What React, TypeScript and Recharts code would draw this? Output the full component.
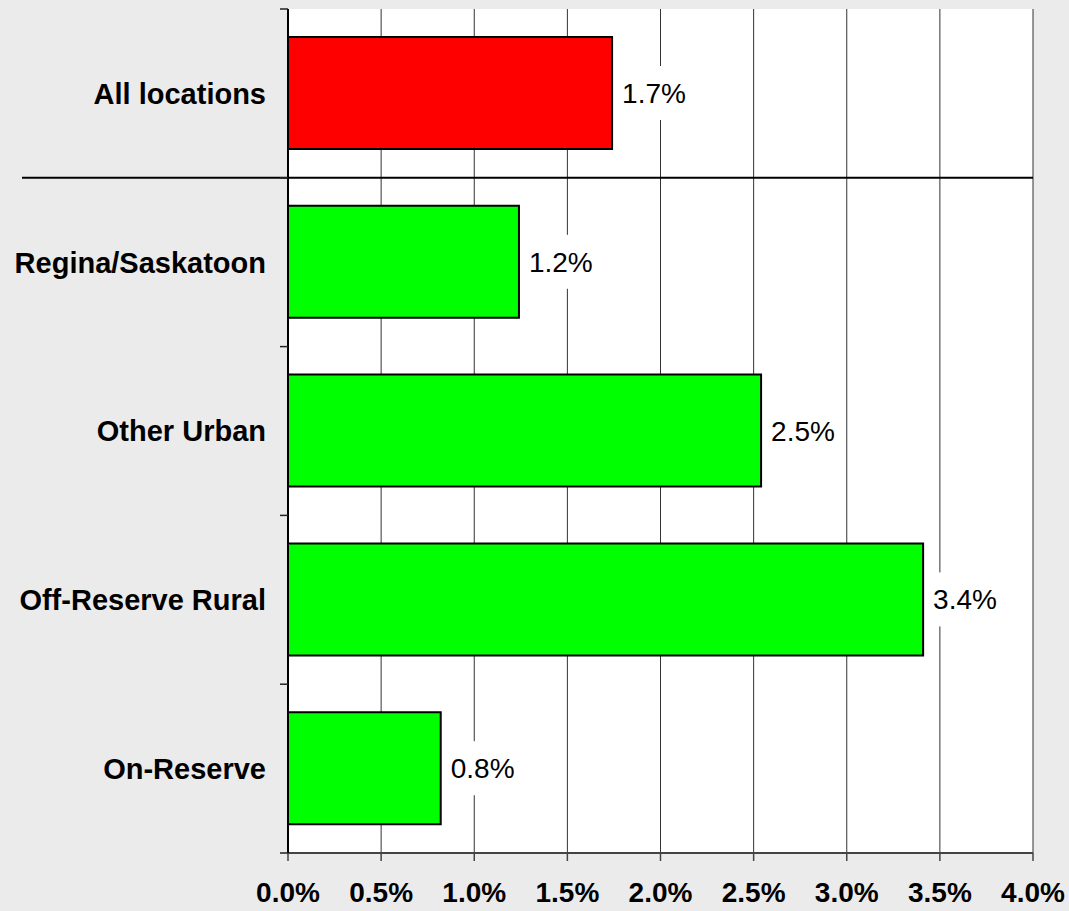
import { BarChart, Bar, XAxis, YAxis, CartesianGrid, Cell, LabelList } from 'recharts'

const categories = ['All locations', 'Regina/Saskatoon', 'Other Urban', 'Off-Reserve Rural', 'On-Reserve']
const rates = [1.74, 1.24, 2.54, 3.41, 0.82]
const barColors = ['#ff0000', '#00ff00', '#00ff00', '#00ff00', '#00ff00']
const xTicks = [0, 0.5, 1, 1.5, 2, 2.5, 3, 3.5, 4]

const W = 1069
const H = 911
const M = { top: 9, right: 36, bottom: 0, left: 0 }
const Y_AXIS_W = 288
const X_AXIS_H = 58
const PLOT_H = H - M.top - M.bottom - X_AXIS_H
const BAND = PLOT_H / categories.length
const FONT = '"Liberation Sans", Arial, sans-serif'
const TICK_SIZE = 8
const TICK_MARGIN = 14

const data = categories.map((name, i) => ({ name, rate: rates[i] }))

function CategoryTick(props: any) {
  const { x, y, payload, index } = props
  const axisX = x + TICK_SIZE + TICK_MARGIN
  return (
    <g>
      <line x1={axisX - TICK_SIZE} x2={axisX} y1={y - BAND / 2} y2={y - BAND / 2} stroke="#222" strokeWidth={1.5} />
      {index === categories.length - 1 && (
        <line x1={axisX - TICK_SIZE} x2={axisX} y1={y + BAND / 2} y2={y + BAND / 2} stroke="#222" strokeWidth={1.5} />
      )}
      {index === 0 && (
        <line x1={22} x2={W - M.right} y1={y + BAND / 2} y2={y + BAND / 2} stroke="#000" strokeWidth={2} />
      )}
      <text x={x} y={y} dy="0.36em" textAnchor="end" fontFamily={FONT} fontSize={29} fontWeight="bold" fill="#000">
        {payload.value}
      </text>
    </g>
  )
}

function ValueLabel(props: any) {
  const { x, y, width, height, value } = props
  const text = `${Number(value).toFixed(1)}%`
  const tx = x + width + 10
  const cy = y + height / 2
  const tw = text.length * 15.8
  return (
    <g>
      <rect x={tx - 4} y={cy - 27} width={tw + 8} height={54} fill="#fff" />
      <text x={tx} y={cy} dy="0.36em" fontFamily={FONT} fontSize={28} fill="#000">
        {text}
      </text>
    </g>
  )
}

export default function App() {
  return (
    <div style={{ position: 'absolute', left: 0, top: 0, width: W, height: H, background: '#ebebeb' }}>
      <BarChart width={W} height={H} data={data} layout="vertical" margin={M}>
        <CartesianGrid horizontal={false} fill="#fff" stroke="#333" strokeWidth={1} />
        <XAxis
          type="number"
          dataKey="rate"
          domain={[0, 4]}
          ticks={xTicks}
          interval={0}
          height={X_AXIS_H}
          tickSize={TICK_SIZE}
          tickMargin={21}
          tickFormatter={(v: number) => `${v.toFixed(1)}%`}
          tick={{ fontFamily: FONT, fontSize: 28, fontWeight: 'bold', fill: '#000' }}
          axisLine={{ stroke: '#444', strokeWidth: 2 }}
          tickLine={{ stroke: '#444', strokeWidth: 1.5 }}
        />
        <XAxis
          xAxisId="top"
          orientation="top"
          type="number"
          domain={[0, 4]}
          height={0}
          tick={false}
          tickLine={false}
          axisLine={{ stroke: '#999', strokeWidth: 2 }}
        />
        <YAxis
          type="category"
          dataKey="name"
          width={Y_AXIS_W}
          tickSize={TICK_SIZE}
          tickMargin={TICK_MARGIN}
          tickLine={false}
          tick={<CategoryTick />}
          axisLine={{ stroke: '#000', strokeWidth: 2 }}
        />
        <YAxis
          yAxisId="right"
          orientation="right"
          type="category"
          dataKey="name"
          width={0}
          tick={false}
          tickLine={false}
          axisLine={{ stroke: '#999', strokeWidth: 2 }}
        />
        <Bar dataKey="rate" barSize={112} stroke="#000" strokeWidth={2} isAnimationActive={false}>
          {data.map((d, i) => (
            <Cell key={d.name} fill={barColors[i]} />
          ))}
          <LabelList dataKey="rate" content={<ValueLabel />} />
        </Bar>
      </BarChart>
    </div>
  )
}
